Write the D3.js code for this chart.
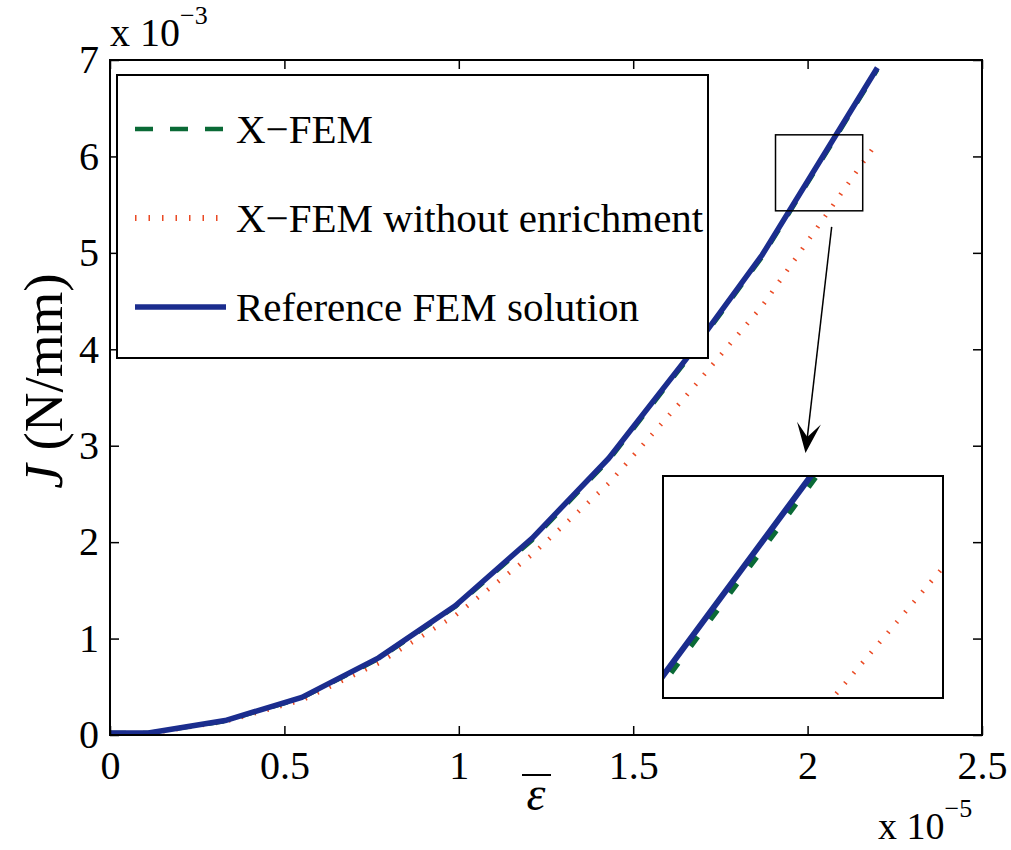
<!DOCTYPE html>
<html>
<head>
<meta charset="utf-8">
<script src="https://cdn.jsdelivr.net/npm/d3@7"></script>
<style>
  html, body { margin: 0; padding: 0; background: #fff; }
  svg { display: block; }
  text { font-family: "Liberation Serif", "DejaVu Serif", serif; fill: #000; }
</style>
</head>
<body>
<svg id="chart" width="1011" height="850"></svg>
<script>
// ---------------- data ----------------
const strain = [0, 0.11, 0.33, 0.55, 0.77, 0.99, 1.21, 1.43, 1.65, 1.87, 2.2];           // x 10^-5
const jReference = [0.02, 0.02, 0.15, 0.39, 0.80, 1.34, 2.04, 2.87, 3.89, 4.98, 6.92];     // x 10^-3
const jXfem      = [0.02, 0.02, 0.145, 0.385, 0.79, 1.33, 2.02, 2.85, 3.87, 4.96, 6.90];
const jXfemNoEnr = [0.02, 0.015, 0.14, 0.36, 0.745, 1.24, 1.87, 2.61, 3.51, 4.45, 6.15];

const xTicks = [0, 0.5, 1, 1.5, 2, 2.5];
const xTickLabels = ["0", "0.5", "1", "1.5", "2", "2.5"];
const yTicks = [0, 1, 2, 3, 4, 5, 6, 7];
const yTickLabels = ["0", "1", "2", "3", "4", "5", "6", "7"];
const xDomain = [0, 2.5];
const yDomain = [0, 7];

const seriesNames = ["X\u2212FEM", "X\u2212FEM without enrichment", "Reference FEM solution"];

// zoom window (data coords) and inset axis limits
const zoomRectX = [1.908, 2.158];
const zoomRectY = [5.436, 6.224];
const insetXDomain = [1.9747, 2.1495];
const insetYDomain = [5.535, 6.138];
const arrowFrom = [2.069, 5.27];
const arrowTo = [1.994, 2.925];

// ---------------- styles ----------------
const COL_BLUE = "#1b2d8e";
const COL_GREEN = "#0a6a36";
const COL_RED = "#ea4a24";
const styles = [
  { color: COL_GREEN, width: 4.5, dash: "16,17" },
  { color: COL_RED, width: 4.5, dash: "1.5,11.8" },
  { color: COL_BLUE, width: 5.5, dash: null }
];

const svg = d3.select("#chart");
svg.append("rect").attr("width", 1011).attr("height", 850).attr("fill", "#fff");

const L = 110, R = 982, T = 60, B = 735;
const x = d3.scaleLinear().domain(xDomain).range([L, R]);
const y = d3.scaleLinear().domain(yDomain).range([B, T]);

const series = [jXfem, jXfemNoEnr, jReference];
const drawOrder = [1, 0, 2];

function lineGen(xs, ys) {
  return d3.line().x((d, i) => xs(strain[i])).y(d => ys(d));
}

// ---------------- main lines ----------------
const gMain = svg.append("g");
drawOrder.forEach(k => {
  const st = styles[k];
  gMain.append("path")
    .datum(series[k])
    .attr("d", lineGen(x, y))
    .attr("fill", "none")
    .attr("stroke", st.color)
    .attr("stroke-width", st.width)
    .attr("stroke-dasharray", st.dash)
    .attr("stroke-linejoin", "round");
});

// ---------------- axes ----------------
const tickFont = "40px";
const axB = svg.append("g").attr("transform", `translate(0,${B})`)
  .call(d3.axisBottom(x).tickValues(xTicks).tickFormat((d, i) => xTickLabels[i])
    .tickSizeInner(-9).tickSizeOuter(0).tickPadding(16));
const axL = svg.append("g").attr("transform", `translate(${L},0)`)
  .call(d3.axisLeft(y).tickValues(yTicks).tickFormat((d, i) => yTickLabels[i])
    .tickSizeInner(-9).tickSizeOuter(0).tickPadding(11));
const axT = svg.append("g").attr("transform", `translate(0,${T})`)
  .call(d3.axisTop(x).tickValues(xTicks).tickFormat("").tickSizeInner(-9).tickSizeOuter(0));
const axR = svg.append("g").attr("transform", `translate(${R},0)`)
  .call(d3.axisRight(y).tickValues(yTicks).tickFormat("").tickSizeInner(-9).tickSizeOuter(0));
[axB, axL, axT, axR].forEach(g => {
  g.attr("font-family", null);
  g.select(".domain").remove();
  g.selectAll(".tick line").attr("stroke", "#000").attr("stroke-width", 1.5);
  g.selectAll("text").style("font-family", "'Liberation Serif', 'DejaVu Serif', serif").style("font-size", tickFont).attr("fill", "#000");
});
svg.append("rect").attr("x", L).attr("y", T).attr("width", R - L).attr("height", B - T)
  .attr("fill", "none").attr("stroke", "#000").attr("stroke-width", 2);

// exponent labels
const expTop = svg.append("text").attr("x", 110).attr("y", 46).style("font-size", "40px");
expTop.append("tspan").text("x 10");
expTop.append("tspan").attr("dy", -22).style("font-size", "26px").text("\u22123");
const expBot = svg.append("text").attr("x", 878).attr("y", 839).style("font-size", "38px");
expBot.append("tspan").text("x 10");
expBot.append("tspan").attr("dy", -22).style("font-size", "26px").text("\u22125");

// axis titles
const yl = svg.append("text")
  .attr("transform", "translate(62,381) rotate(-90)")
  .attr("text-anchor", "middle")
  .style("font-size", "55px");
yl.append("tspan").style("font-style", "italic").text("J");
yl.append("tspan").text(" (N/mm)");

svg.append("text").attr("x", 536).attr("y", 810).attr("text-anchor", "middle")
  .style("font-size", "48px").style("font-style", "italic").text("\u03b5");
svg.append("line").attr("x1", 522).attr("x2", 551).attr("y1", 775).attr("y2", 775)
  .attr("stroke", "#000").attr("stroke-width", 2);

// ---------------- legend ----------------
const lg = svg.append("g");
lg.append("rect").attr("x", 117).attr("y", 75).attr("width", 591).attr("height", 283)
  .attr("fill", "#fff").attr("stroke", "#000").attr("stroke-width", 2);
const legendRows = [129, 218, 307];
seriesNames.forEach((name, k) => {
  const st = styles[k];
  const yy = legendRows[k];
  lg.append("line").attr("x1", 135).attr("x2", 226).attr("y1", yy).attr("y2", yy)
    .attr("stroke", st.color).attr("stroke-width", k === 1 ? 6 : st.width)
    .attr("stroke-dasharray", k === 1 ? "1.5,12" : (k === 0 ? "18,17" : null));
  lg.append("text").attr("x", 236).attr("y", yy + 14).style("font-size", "41px").text(name);
});

// ---------------- zoom rectangle & arrow ----------------
svg.append("rect")
  .attr("x", x(zoomRectX[0])).attr("y", y(zoomRectY[1]))
  .attr("width", x(zoomRectX[1]) - x(zoomRectX[0]))
  .attr("height", y(zoomRectY[0]) - y(zoomRectY[1]))
  .attr("fill", "none").attr("stroke", "#000").attr("stroke-width", 1.5);

const ax0 = x(arrowFrom[0]), ay0 = y(arrowFrom[1]);
const ax1 = x(arrowTo[0]), ay1 = y(arrowTo[1]);
const ang = Math.atan2(ay1 - ay0, ax1 - ax0);
const hl = 30, hw = 12, notch = 14;
const ux = Math.cos(ang), uy = Math.sin(ang), px = -uy, py = ux;
svg.append("line").attr("x1", ax0).attr("y1", ay0)
  .attr("x2", ax1 - ux * notch).attr("y2", ay1 - uy * notch)
  .attr("stroke", "#000").attr("stroke-width", 1.5);
svg.append("path")
  .attr("d", `M${ax1},${ay1} L${ax1 - ux * hl + px * hw},${ay1 - uy * hl + py * hw} L${ax1 - ux * (hl - notch)},${ay1 - uy * (hl - notch)} L${ax1 - ux * hl - px * hw},${ay1 - uy * hl - py * hw} Z`)
  .attr("fill", "#000");

// ---------------- inset ----------------
const IL = 663, IR = 943, IT = 476, IB = 698;
const xi = d3.scaleLinear().domain(insetXDomain).range([IL, IR]);
const yi = d3.scaleLinear().domain(insetYDomain).range([IB, IT]);
svg.append("defs").append("clipPath").attr("id", "insetClip")
  .append("rect").attr("x", IL).attr("y", IT).attr("width", IR - IL).attr("height", IB - IT);
svg.append("rect").attr("x", IL).attr("y", IT).attr("width", IR - IL).attr("height", IB - IT)
  .attr("fill", "#fff");
const gIn = svg.append("g").attr("clip-path", "url(#insetClip)");
drawOrder.forEach(k => {
  const st = styles[k];
  gIn.append("path")
    .datum(series[k])
    .attr("d", lineGen(xi, yi))
    .attr("fill", "none")
    .attr("stroke", st.color)
    .attr("stroke-width", k === 1 ? 4.5 : 6)
    .attr("stroke-dasharray", k === 0 ? "12,21" : st.dash);
});
svg.append("rect").attr("x", IL).attr("y", IT).attr("width", IR - IL).attr("height", IB - IT)
  .attr("fill", "none").attr("stroke", "#000").attr("stroke-width", 2);
</script>
</body>
</html>
